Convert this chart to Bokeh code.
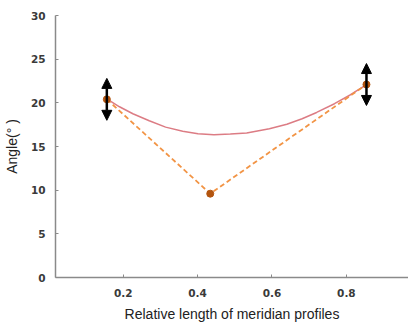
from bokeh.plotting import figure
from bokeh.models import ColumnDataSource, Arrow, NormalHead, FixedTicker, Range1d
from bokeh.embed import file_html
from bokeh.resources import INLINE

# measured points
pos = [0.156, 0.434, 0.854]
angle = [20.4, 9.6, 22.1]
err = [2.4, 0.0, 2.4]

# smooth fitted curve
curve_x = [0.156, 0.19, 0.226, 0.27, 0.314, 0.36, 0.401, 0.444, 0.488, 0.532,
           0.593, 0.64, 0.681, 0.72, 0.768, 0.81, 0.851]
curve_y = [20.45, 19.55, 18.75, 17.95, 17.22, 16.75, 16.46, 16.35, 16.42, 16.55,
           17.03, 17.55, 18.18, 18.9, 19.9, 20.9, 22.0]

x_ticks = [0.2, 0.4, 0.6, 0.8, 1.0]
y_ticks = [0, 5, 10, 15, 20, 25, 30]

p = figure(width=408, height=324, output_backend="svg", toolbar_location=None,
           x_range=Range1d(0.018, 0.967), y_range=Range1d(0, 30),
           min_border_left=45, min_border_top=15, min_border_bottom=47, min_border_right=0)
p.outline_line_color = None
p.grid.grid_line_color = None
p.background_fill_color = "white"

p.line(curve_x, curve_y, line_color="#dc7c84", line_width=1.5)
p.line(pos, angle, line_color="#f29445", line_width=1.8, line_dash="5 3")

src = ColumnDataSource(dict(
    x=[pos[i] for i in range(3) if err[i] > 0],
    lo=[angle[i] - err[i] for i in range(3) if err[i] > 0],
    hi=[angle[i] + err[i] for i in range(3) if err[i] > 0],
))
p.add_layout(Arrow(x_start="x", y_start="lo", x_end="x", y_end="hi", source=src,
                   line_color="black", line_width=2.5,
                   start=NormalHead(size=10, fill_color="black", line_color="black"),
                   end=NormalHead(size=10, fill_color="black", line_color="black")))

p.scatter(pos, angle, size=7, fill_color="#b3540e", line_color="#b3540e")

for ax in (p.xaxis[0], p.yaxis[0]):
    ax.axis_line_color = "#8a8a8a"
    ax.axis_line_width = 1.5
    ax.major_tick_line_color = "#8a8a8a"
    ax.major_tick_in = 3
    ax.major_tick_out = 0
    ax.minor_tick_line_color = None
    ax.major_label_text_font = "DejaVu Sans"
    ax.major_label_text_font_style = "bold"
    ax.major_label_text_font_size = "10.5px"
    ax.major_label_text_color = "#3a3a3a"
    ax.axis_label_text_font = "Liberation Sans"
    ax.axis_label_text_font_style = "normal"
    ax.axis_label_text_font_size = "14px"
    ax.axis_label_text_color = "#222222"

p.xaxis.ticker = FixedTicker(ticks=x_ticks)
p.yaxis.ticker = FixedTicker(ticks=y_ticks)
p.xaxis.major_label_overrides = {1.0: "1"}
p.xaxis.major_label_standoff = 11
p.yaxis.major_label_standoff = 10
p.xaxis.axis_label = "Relative length of meridian profiles"
p.yaxis.axis_label = "Angle(° )"
p.xaxis.axis_label_standoff = 6
p.yaxis.axis_label_standoff = 8

open("out.html", "w").write(file_html(p, INLINE))
